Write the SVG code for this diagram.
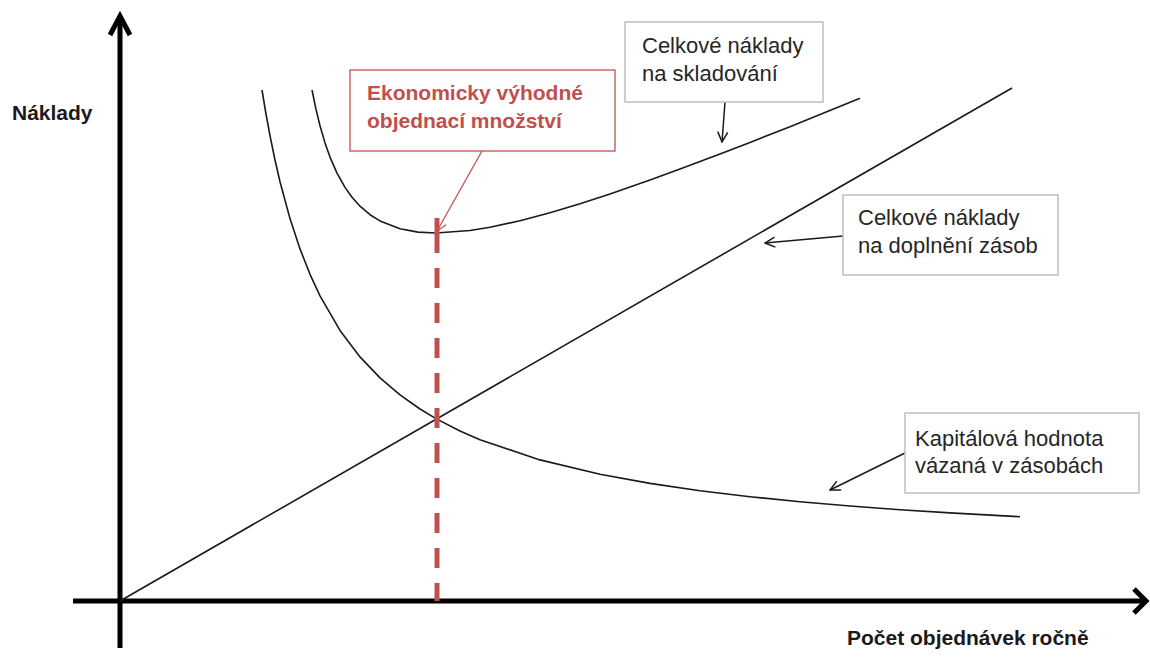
<svg xmlns="http://www.w3.org/2000/svg" width="1150" height="657" viewBox="0 0 1150 657">
<style>
.axis{stroke:#000;stroke-width:5;fill:none}
.curve{stroke:#1a1a1a;stroke-width:1.6;fill:none;stroke-linejoin:round}
.lbl{font-family:"Liberation Sans",Arial,sans-serif;font-size:22px;fill:#262626}
.ttl{font-family:"Liberation Sans",Arial,sans-serif;font-size:21px;font-weight:bold;fill:#1a1a1a}
.box{fill:#fff;stroke:#bfbfbf;stroke-width:1.5}
.ptr{stroke:#1a1a1a;stroke-width:1.5;fill:none;marker-end:url(#chev)}
</style>
<defs>
<marker id="chev" viewBox="0 0 12 12" refX="11" refY="6" markerWidth="12" markerHeight="12" markerUnits="userSpaceOnUse" orient="auto">
<path d="M1,1 L11,6 L1,11" fill="none" stroke="#1a1a1a" stroke-width="1.5"/>
</marker>
<marker id="chevr" viewBox="0 0 12 12" refX="11" refY="6" markerWidth="12" markerHeight="12" markerUnits="userSpaceOnUse" orient="auto">
<path d="M1,1 L11,6 L1,11" fill="none" stroke="#c0504d" stroke-width="1.3"/>
</marker>
</defs>

<g id="axes">
<line class="axis" x1="120" y1="648" x2="120" y2="16"/>
<path class="axis" d="M110,35 L120,16 L130,35" stroke-linejoin="miter"/>
<line class="axis" x1="73" y1="601" x2="1146" y2="601"/>
<path class="axis" d="M1134,589 L1146,601 L1134,613" stroke-linejoin="miter"/>
</g>

<g id="curves">
<path id="line-replenish" class="curve" d="M120,601 L1012,88"/>
<path id="curve-capital" class="curve" d="M262,90 L266,114 L270,135.7 L275,160 L280,181.7 L290,218.6 L300,248.9 L310,274.3 L320,295.8 L340,330.4 L360,356.9 L380,377.9 L400,394.9 L420,409 L436,418.6 L460,431 L480,439.7 L540,459.9 L600,474.3 L650,483.4 L700,490.7 L750,496.7 L800,501.8 L850,506 L900,509.7 L950,512.9 L1020,516.7"/>
<path id="curve-total" class="curve" d="M312,90 L316,109.4 L320,125.7 L325,142.9 L330,157.1 L337,173.1 L345,187.4 L352,197.2 L360,206.2 L370,214.7 L380,220.9 L400,228.8 L418,232.1 L436,233 L470,230.5 L490,227.3 L520,220.7 L550,212.7 L580,203.7 L610,193.9 L650,180.1 L680,169.1 L720,154 L750,142.4 L790,126.7 L820,114.6 L860,98.3"/>
</g>

<path id="eoq-line" d="M437,218 V601" stroke="#c0504d" stroke-width="5" fill="none" stroke-dasharray="35 15 20 15 20 15 20 15 20 15 20 15 20 15 20 15 20 15 20 15 20 15"/>

<g id="connectors">
<line x1="482" y1="151" x2="437" y2="231" stroke="#c0504d" stroke-width="1.3" marker-end="url(#chevr)"/>
<line class="ptr" x1="725" y1="102" x2="722" y2="142"/>
<line class="ptr" x1="843" y1="236" x2="765" y2="243"/>
<line class="ptr" x1="905" y1="453" x2="830" y2="490"/>
</g>

<g id="node-eoq">
<rect x="350" y="70" width="265" height="81" fill="#fff" stroke="#c0504d" stroke-width="1.3"/>
<text class="ttl" x="367" y="100" style="fill:#c0504d">Ekonomicky výhodné</text>
<text class="ttl" x="367" y="128" style="fill:#c0504d">objednací množství</text>
</g>

<g id="node-storage">
<rect class="box" x="625" y="22" width="198" height="80"/>
<text class="lbl" x="642" y="53">Celkové náklady</text>
<text class="lbl" x="642" y="81">na skladování</text>
</g>

<g id="node-replenish">
<rect class="box" x="843" y="195" width="215" height="80"/>
<text class="lbl" x="858" y="225">Celkové náklady</text>
<text class="lbl" x="858" y="253">na doplnění zásob</text>
</g>

<g id="node-capital">
<rect class="box" x="905" y="413" width="234" height="80"/>
<text class="lbl" x="915" y="446">Kapitálová hodnota</text>
<text class="lbl" x="915" y="473">vázaná v zásobách</text>
</g>

<g id="axis-labels">
<text class="ttl" x="12" y="120">Náklady</text>
<text class="ttl" x="847" y="645">Počet objednávek ročně</text>
</g>
</svg>
